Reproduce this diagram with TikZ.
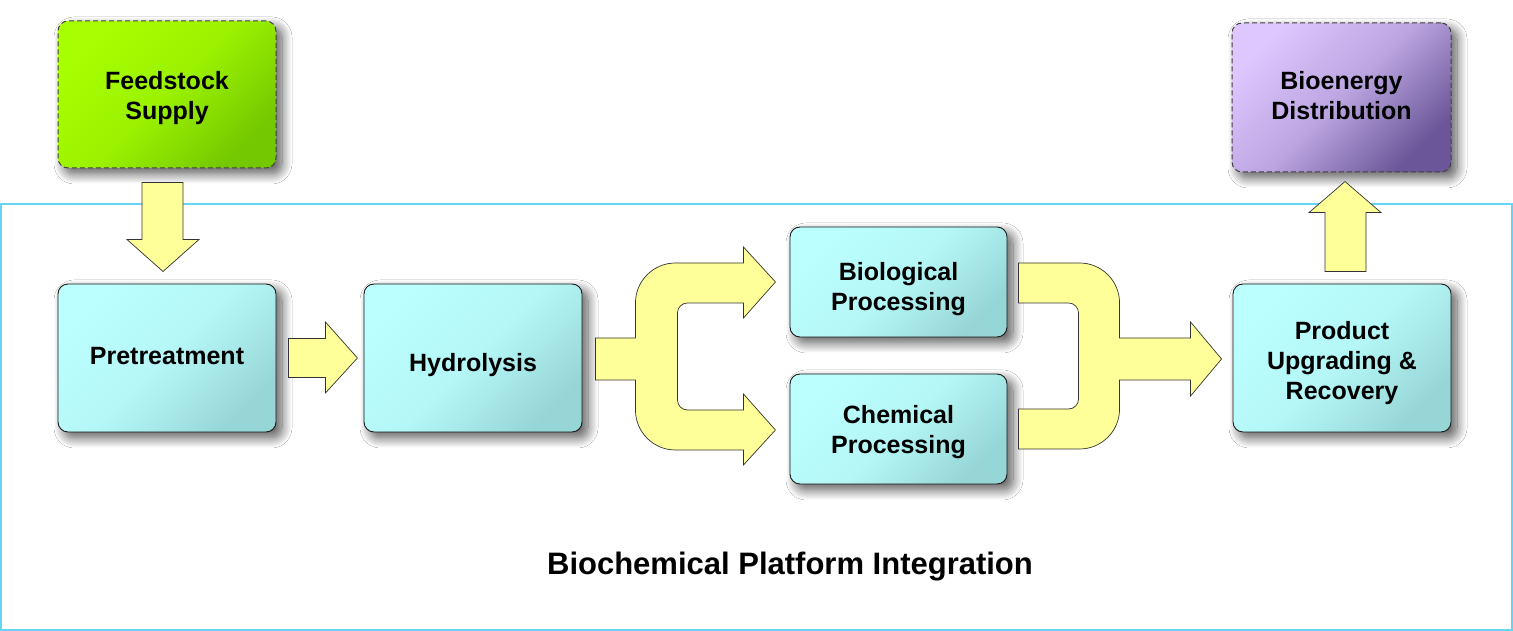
\documentclass[tikz,border=0pt]{standalone}
\usepackage{fontspec}
\setmainfont{Liberation Sans}
\usetikzlibrary{shadows.blur}
\definecolor{cyanA}{HTML}{BCFFFF}
\definecolor{cyanB}{HTML}{97D6D6}
\definecolor{greenA}{HTML}{A8FF00}
\definecolor{greenB}{HTML}{74C800}
\definecolor{purpA}{HTML}{DEC6FF}
\definecolor{purpB}{HTML}{6A5698}
\definecolor{arrowfill}{HTML}{FFFF99}
\definecolor{frameblue}{HTML}{66D4F4}
\newcommand{\shiftedtext}[2]{\raisebox{#1}[\height][\depth]{\begin{tabular}{@{}c@{}}#2\end{tabular}}}
\begin{document}
\begin{tikzpicture}[x=1pt,y=1pt,
  boxbase/.style={line width=0.9pt, rounded corners=10pt, inner sep=0pt, align=center,
    font=\fontsize{25}{30}\selectfont\bfseries,
    blur shadow={shadow xshift=6pt, shadow yshift=-6pt, shadow blur radius=10pt, shadow blur steps=12, shadow opacity=65}},
  stage/.style={boxbase, draw=black!90, minimum width=218pt, minimum height=148pt,
    top color=cyanA, bottom color=cyanB, middle color=cyanA!80!cyanB, shading angle=45},
  smallstage/.style={stage, minimum width=217pt, minimum height=110pt},
  extgreen/.style={boxbase, draw=black!75, line width=1pt, dash pattern=on 5pt off 3pt, minimum width=218pt, minimum height=147pt,
    top color=greenA, bottom color=greenB, middle color=greenA!75!greenB, shading angle=45},
  extpurple/.style={boxbase, draw=black!75, line width=1pt, dash pattern=on 5pt off 3pt, minimum width=219pt, minimum height=149pt,
    top color=purpA, bottom color=purpB, middle color=purpA!70!purpB, shading angle=45},
  blockarrow/.style={fill=arrowfill, draw=black!80, line width=0.7pt, line join=miter}
]
\useasboundingbox (0,0) rectangle (1513,631);
\fill[white] (0,0) rectangle (1513,631);

% container
\draw[frameblue, line width=1.5pt] (1,1) rectangle (1512,427);
\node[font=\fontsize{31}{36}\selectfont\bfseries] (plat) at (790,64) {Biochemical Platform Integration};

% nodes
\node[extgreen] (feed) at (167,536.5) {\shiftedtext{-4pt}{Feedstock\\Supply}};
\node[extpurple] (dist) at (1341.5,533.5) {\shiftedtext{-1pt}{Bioenergy\\Distribution}};
\node[stage] (pre) at (167,273) {\shiftedtext{-1pt}{Pretreatment}};
\node[stage] (hyd) at (473,273) {\shiftedtext{-8pt}{Hydrolysis}};
\node[smallstage] (biol) at (898.5,349) {\shiftedtext{-8pt}{Biological\\Processing}};
\node[smallstage] (chem) at (898.5,202) {\shiftedtext{-4pt}{Chemical\\Processing}};
\node[stage] (prod) at (1342,273) {\shiftedtext{-6pt}{Product\\Upgrading \&\\Recovery}};

% feed -> pre (down arrow), relative to feed.south
\draw[blockarrow, shift={(feed.south)}]
  (-25,-14) -- (16,-14) -- (16,-71) -- (32,-71) -- (-4,-103) -- (-40,-71) -- (-25,-71) -- cycle;

% pre -> hyd
\draw[blockarrow, shift={(pre.east)}]
  (12,19.5) -- (49,19.5) -- (49,36) -- (81,0) -- (49,-35) -- (49,-19.5) -- (12,-19.5) -- cycle;

% hyd -> biol / chem (split arrow)
\draw[blockarrow, shift={(hyd.east)}, xshift=-582, yshift=-273]
  (595,293) -- (635,293) -- (635,328) arc[start angle=180, end angle=90, radius=40]
  -- (743,368) -- (743,384) -- (775,349) -- (743,313) -- (743,328) -- (687,328)
  arc[start angle=90, end angle=180, radius=10] -- (677,231)
  arc[start angle=180, end angle=270, radius=10] -- (743,221) -- (743,237) -- (775,201)
  -- (743,166) -- (743,181) -- (675,181) arc[start angle=270, end angle=180, radius=40]
  -- (635,251) -- (595,251) -- cycle;

% biol / chem -> prod (merge arrow)
\draw[blockarrow, shift={(prod.west)}, xshift=-1233, yshift=-273]
  (1019,368) -- (1080,368) arc[start angle=90, end angle=0, radius=40]
  -- (1120,293) -- (1191,293) -- (1191,309) -- (1222,272) -- (1191,235) -- (1191,251)
  -- (1120,251) -- (1120,222) arc[start angle=0, end angle=-90, radius=40]
  -- (1019,182) -- (1019,222) -- (1069,222) arc[start angle=-90, end angle=0, radius=10]
  -- (1079,318) arc[start angle=0, end angle=90, radius=10] -- (1019,328) -- cycle;

% prod -> dist (up arrow), relative to prod.north
\draw[blockarrow, shift={(prod.north)}]
  (-17,12) -- (24,12) -- (24,71) -- (39,71) -- (3,102) -- (-33,71) -- (-17,71) -- cycle;
\end{tikzpicture}
\end{document}
